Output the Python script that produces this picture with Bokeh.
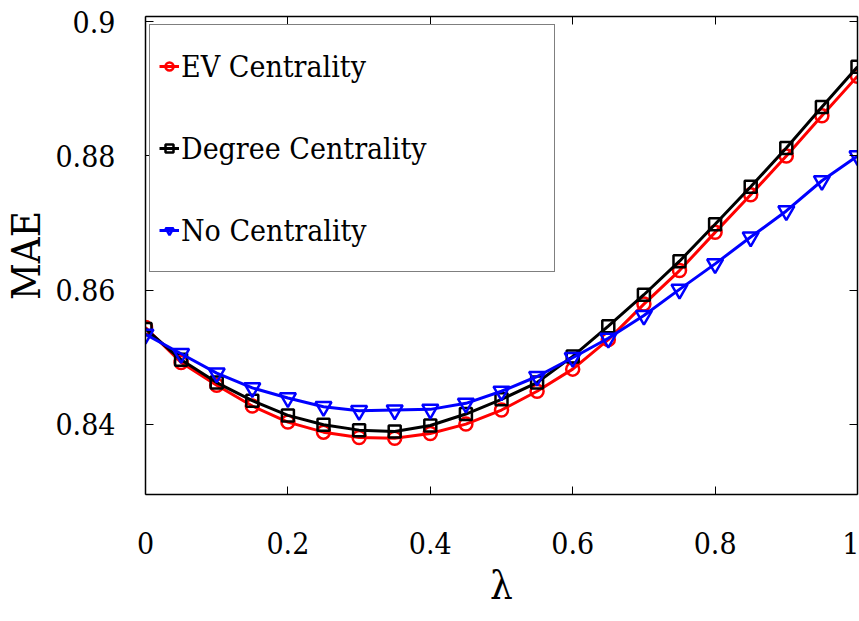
from bokeh.plotting import figure
from bokeh.models import Range1d, LinearAxis, FixedTicker, Legend, LegendItem
from bokeh.embed import file_html
from bokeh.resources import INLINE

lam = [0.00, 0.05, 0.10, 0.15, 0.20, 0.25, 0.30, 0.35, 0.40, 0.45, 0.50,
       0.55, 0.60, 0.65, 0.70, 0.75, 0.80, 0.85, 0.90, 0.95, 1.00]
ev_centrality = [0.8544, 0.8492, 0.8458, 0.8427, 0.8403, 0.8388, 0.8380, 0.8379, 0.8386, 0.8400, 0.8421,
                 0.8449, 0.8482, 0.8526, 0.8579, 0.8629, 0.8686, 0.8742, 0.8800, 0.8860, 0.8919]
degree_centrality = [0.8542, 0.8496, 0.8462, 0.8435, 0.8413, 0.8399, 0.8391, 0.8389, 0.8398, 0.8415, 0.8437,
                     0.8462, 0.8501, 0.8546, 0.8593, 0.8643, 0.8698, 0.8754, 0.8812, 0.8873, 0.8933]
no_centrality = [0.8534, 0.8505, 0.8476, 0.8454, 0.8439, 0.8426, 0.8420, 0.8421, 0.8422, 0.8431, 0.8449,
                 0.8471, 0.8499, 0.8528, 0.8562, 0.8601, 0.8639, 0.8679, 0.8718, 0.8763, 0.8800]
series_names = ["EV Centrality", "Degree Centrality", "No Centrality"]
x_ticks = [0, 0.2, 0.4, 0.6, 0.8, 1.0]
x_tick_labels = ["0", "0.2", "0.4", "0.6", "0.8", "1"]
y_ticks = [0.84, 0.86, 0.88, 0.9]
y_tick_labels = ["0.84", "0.86", "0.88", "0.9"]

FONT = "DejaVu Serif Condensed"

p = figure(width=859, height=621, output_backend="svg", toolbar_location=None,
           x_range=Range1d(0, 1), y_range=Range1d(0.8295, 0.9008),
           min_border_left=145, min_border_right=2, min_border_top=16, min_border_bottom=127)
p.grid.visible = False
p.outline_line_color = None
p.background_fill_color = "white"
p.border_fill_color = "white"

def style_axis(ax, ticks, labels, show_labels=True):
    ax.ticker = FixedTicker(ticks=ticks)
    ax.major_tick_in = 8
    ax.major_tick_out = 0
    ax.minor_tick_line_color = None
    ax.axis_line_color = "black"
    ax.axis_line_width = 1.5
    ax.major_tick_line_color = "black"
    ax.major_tick_line_width = 1
    ax.major_label_text_font = FONT
    ax.major_label_text_color = "black"
    if show_labels:
        ax.major_label_overrides = {t: l for t, l in zip(ticks, labels)}
        ax.major_label_text_font_size = "30px"
    else:
        ax.major_label_overrides = {t: "" for t in ticks}
        ax.major_label_text_font_size = "1px"
        ax.major_label_standoff = 0

xa = p.xaxis[0]
ya = p.yaxis[0]
style_axis(xa, x_ticks, x_tick_labels)
style_axis(ya, y_ticks, y_tick_labels)
xa.major_label_standoff = 37
ya.major_label_standoff = 30
xa.axis_label = "λ"
ya.axis_label = "MAE"
for ax in (xa, ya):
    ax.axis_label_text_font = FONT
    ax.axis_label_text_font_style = "normal"
    ax.axis_label_text_color = "black"
xa.axis_label_text_font_size = "40px"
ya.axis_label_text_font_size = "40px"
xa.axis_label_standoff = 5
ya.axis_label_standoff = 3

ra = LinearAxis()
style_axis(ra, y_ticks, y_tick_labels, show_labels=False)
p.add_layout(ra, "right")
ta = LinearAxis()
style_axis(ta, x_ticks, x_tick_labels, show_labels=False)
p.add_layout(ta, "above")

colors = ["red", "black", "blue"]
markers = ["circle", "square", "inverted_triangle"]
sizes = [13, 12, 16]
items = []
for name, ys, c, m, s in zip(series_names, [ev_centrality, degree_centrality, no_centrality],
                              colors, markers, sizes):
    lr = p.line(lam, ys, line_color=c, line_width=3)
    sr = p.scatter(lam, ys, marker=m, size=s, fill_color=None, line_color=c, line_width=2.5)
    items.append(LegendItem(label=name, renderers=[lr, sr]))

legend = Legend(items=items, location=(4, 222))
legend.label_text_font = FONT
legend.label_text_font_size = "30px"
legend.label_text_color = "black"
legend.label_width = 364
legend.label_height = 64
legend.glyph_height = 20
legend.glyph_width = 20
legend.label_standoff = 2
legend.spacing = 18
legend.padding = 9
legend.margin = 0
legend.border_line_color = "black"
legend.border_line_width = 1.5
legend.background_fill_color = "white"
legend.background_fill_alpha = 1.0
p.add_layout(legend, "center")

open("out.html", "w").write(file_html(p, INLINE))
